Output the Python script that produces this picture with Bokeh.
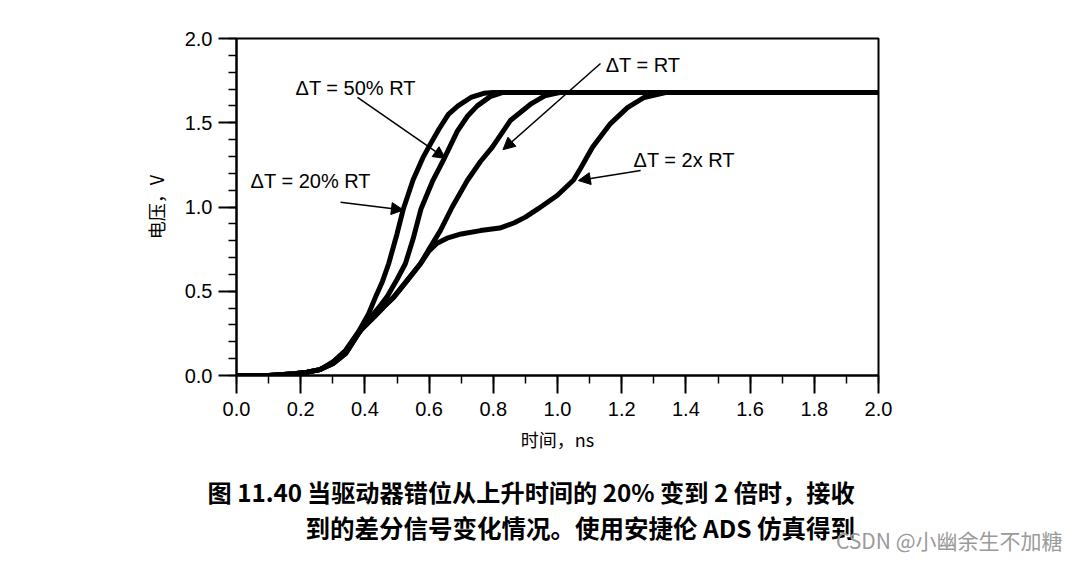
from bokeh.plotting import figure
from bokeh.models import (Range1d, SingleIntervalTicker, PrintfTickFormatter,
                          Label, Arrow, NormalHead, Title)
from bokeh.embed import file_html
from bokeh.resources import INLINE

# ---- data ----
t_20 = [0.0, 0.10, 0.18, 0.22, 0.26, 0.30, 0.34, 0.38, 0.41, 0.433, 0.455, 0.474,
        0.50, 0.52, 0.55, 0.58, 0.60, 0.63, 0.66, 0.69, 0.73, 0.77, 0.80, 2.0]
v_20 = [0.0, 0.0, 0.01, 0.02, 0.035, 0.08, 0.15, 0.26, 0.36, 0.465, 0.56, 0.663,
        0.84, 0.99, 1.16, 1.29, 1.36, 1.46, 1.55, 1.60, 1.65, 1.675, 1.68, 1.68]

t_50 = [0.0, 0.10, 0.18, 0.22, 0.26, 0.30, 0.34, 0.38, 0.42, 0.45, 0.47, 0.50,
        0.526, 0.55, 0.575, 0.61, 0.645, 0.688, 0.72, 0.75, 0.79, 0.83, 2.0]
v_50 = [0.0, 0.0, 0.01, 0.02, 0.035, 0.075, 0.145, 0.25, 0.35, 0.42, 0.47, 0.57,
        0.663, 0.81, 0.99, 1.15, 1.28, 1.45, 1.54, 1.60, 1.655, 1.68, 1.68]

t_rt = [0.0, 0.10, 0.18, 0.22, 0.26, 0.30, 0.34, 0.386, 0.43, 0.46, 0.49, 0.53,
        0.573, 0.60, 0.635, 0.672, 0.719, 0.76, 0.797, 0.853, 0.916, 0.96, 1.01, 2.0]
v_rt = [0.0, 0.0, 0.01, 0.02, 0.035, 0.07, 0.13, 0.267, 0.35, 0.41, 0.465, 0.56,
        0.663, 0.75, 0.86, 1.0, 1.157, 1.27, 1.355, 1.513, 1.61, 1.66, 1.68, 1.68]

t_2x = [0.0, 0.10, 0.18, 0.22, 0.26, 0.30, 0.34, 0.386, 0.43, 0.46, 0.49, 0.53,
        0.573, 0.60, 0.625, 0.656, 0.70, 0.76, 0.82, 0.864, 0.90, 0.94, 0.97, 1.0,
        1.05, 1.072, 1.109, 1.165, 1.218, 1.27, 1.34, 2.0]
v_2x = [0.0, 0.0, 0.01, 0.02, 0.035, 0.07, 0.13, 0.267, 0.35, 0.41, 0.465, 0.56,
        0.663, 0.74, 0.785, 0.815, 0.84, 0.86, 0.875, 0.905, 0.94, 0.99, 1.03, 1.07,
        1.16, 1.23, 1.355, 1.495, 1.59, 1.65, 1.68, 1.68]

ann_text = ["ΔT = 50% RT", "ΔT = 20% RT", "ΔT = RT", "ΔT = 2x RT"]
ann_x = [0.184, 0.044, 1.150, 1.237]
ann_y = [1.709, 1.157, 1.840, 1.276]
arr_x0 = [0.377, 0.324, 1.134, 1.259]
arr_y0 = [1.650, 1.028, 1.852, 1.217]
arr_x1 = [0.651, 0.520, 0.830, 1.065]
arr_y1 = [1.288, 0.982, 1.340, 1.157]

x_label = "时间，ns"
y_label = "电压，V"
caption_1 = "图 11.40\u2009当驱动器错位从上升时间的 20% 变到 2 倍时，接收"
caption_2 = "到的差分信号变化情况。使用安捷伦 ADS 仿真得到"
watermark = "CSDN @小幽余生不加糖"

# ---- main chart ----
p = figure(width=1078, height=561, output_backend="svg", toolbar_location=None,
           x_range=Range1d(0, 2), y_range=Range1d(0, 2),
           min_border_left=236, min_border_right=200,
           min_border_top=38, min_border_bottom=186)
p.background_fill_color = "white"
p.border_fill_color = "white"
p.grid.visible = False
p.outline_line_color = "black"
p.outline_line_width = 2

tick_font = "Liberation Sans"
for ax in (p.xaxis[0], p.yaxis[0]):
    ax.axis_line_width = 2
    ax.axis_line_color = "black"
    ax.major_tick_line_width = 2
    ax.minor_tick_line_width = 1.5
    ax.major_tick_in = 0
    ax.major_tick_out = 18
    ax.minor_tick_in = 0
    ax.minor_tick_out = 8
    ax.major_label_text_font = tick_font
    ax.major_label_text_font_size = "20px"
    ax.major_label_text_color = "black"
    ax.formatter = PrintfTickFormatter(format="%.1f")
    ax.axis_label_text_font = "Noto Sans CJK SC"
    ax.axis_label_text_font_style = "normal"
    ax.axis_label_text_font_size = "18px"
    ax.axis_label_text_color = "black"

p.xaxis[0].ticker = SingleIntervalTicker(interval=0.2, num_minor_ticks=2)
p.yaxis[0].ticker = SingleIntervalTicker(interval=0.5, num_minor_ticks=5)
p.xaxis[0].major_label_standoff = 8
p.yaxis[0].major_label_standoff = 6
p.xaxis[0].axis_label = x_label
p.yaxis[0].axis_label = y_label
p.xaxis[0].axis_label_standoff = 7
p.yaxis[0].axis_label_standoff = 13

for t, v in ((t_2x, v_2x), (t_rt, v_rt), (t_50, v_50), (t_20, v_20)):
    p.line(t, v, line_color="black", line_width=5, line_join="round", line_cap="round")

for txt, x, y in zip(ann_text, ann_x, ann_y):
    p.add_layout(Label(x=x, y=y, text=txt, text_font=tick_font, text_font_size="20px",
                       text_color="black", text_baseline="middle", text_align="left"))

for x0, y0, x1, y1 in zip(arr_x0, arr_y0, arr_x1, arr_y1):
    p.add_layout(Arrow(x_start=x0, y_start=y0, x_end=x1, y_end=y1,
                       line_color="black", line_width=1.5,
                       end=NormalHead(size=12, fill_color="black", line_color="black")))

# ---- caption lines below the x axis ----
cap_font = "Noto Sans CJK SC"
t1 = Title(text=caption_1, align="left", offset=-29, standoff=34,
           text_font=cap_font, text_font_style="bold", text_font_size="24.2px",
           text_color="black")
t2 = Title(text=caption_2, align="left", offset=69, standoff=-36,
           text_font=cap_font, text_font_style="bold", text_font_size="24.5px",
           text_color="black")
tw = Title(text=watermark, align="right", offset=-184, standoff=-7,
           text_font=cap_font, text_font_style="normal", text_font_size="21px",
           text_color="#9a9a9a")
p.add_layout(t1, "below")
p.add_layout(t2, "below")
p.add_layout(tw, "below")

open("out.html", "w").write(file_html(p, INLINE))
